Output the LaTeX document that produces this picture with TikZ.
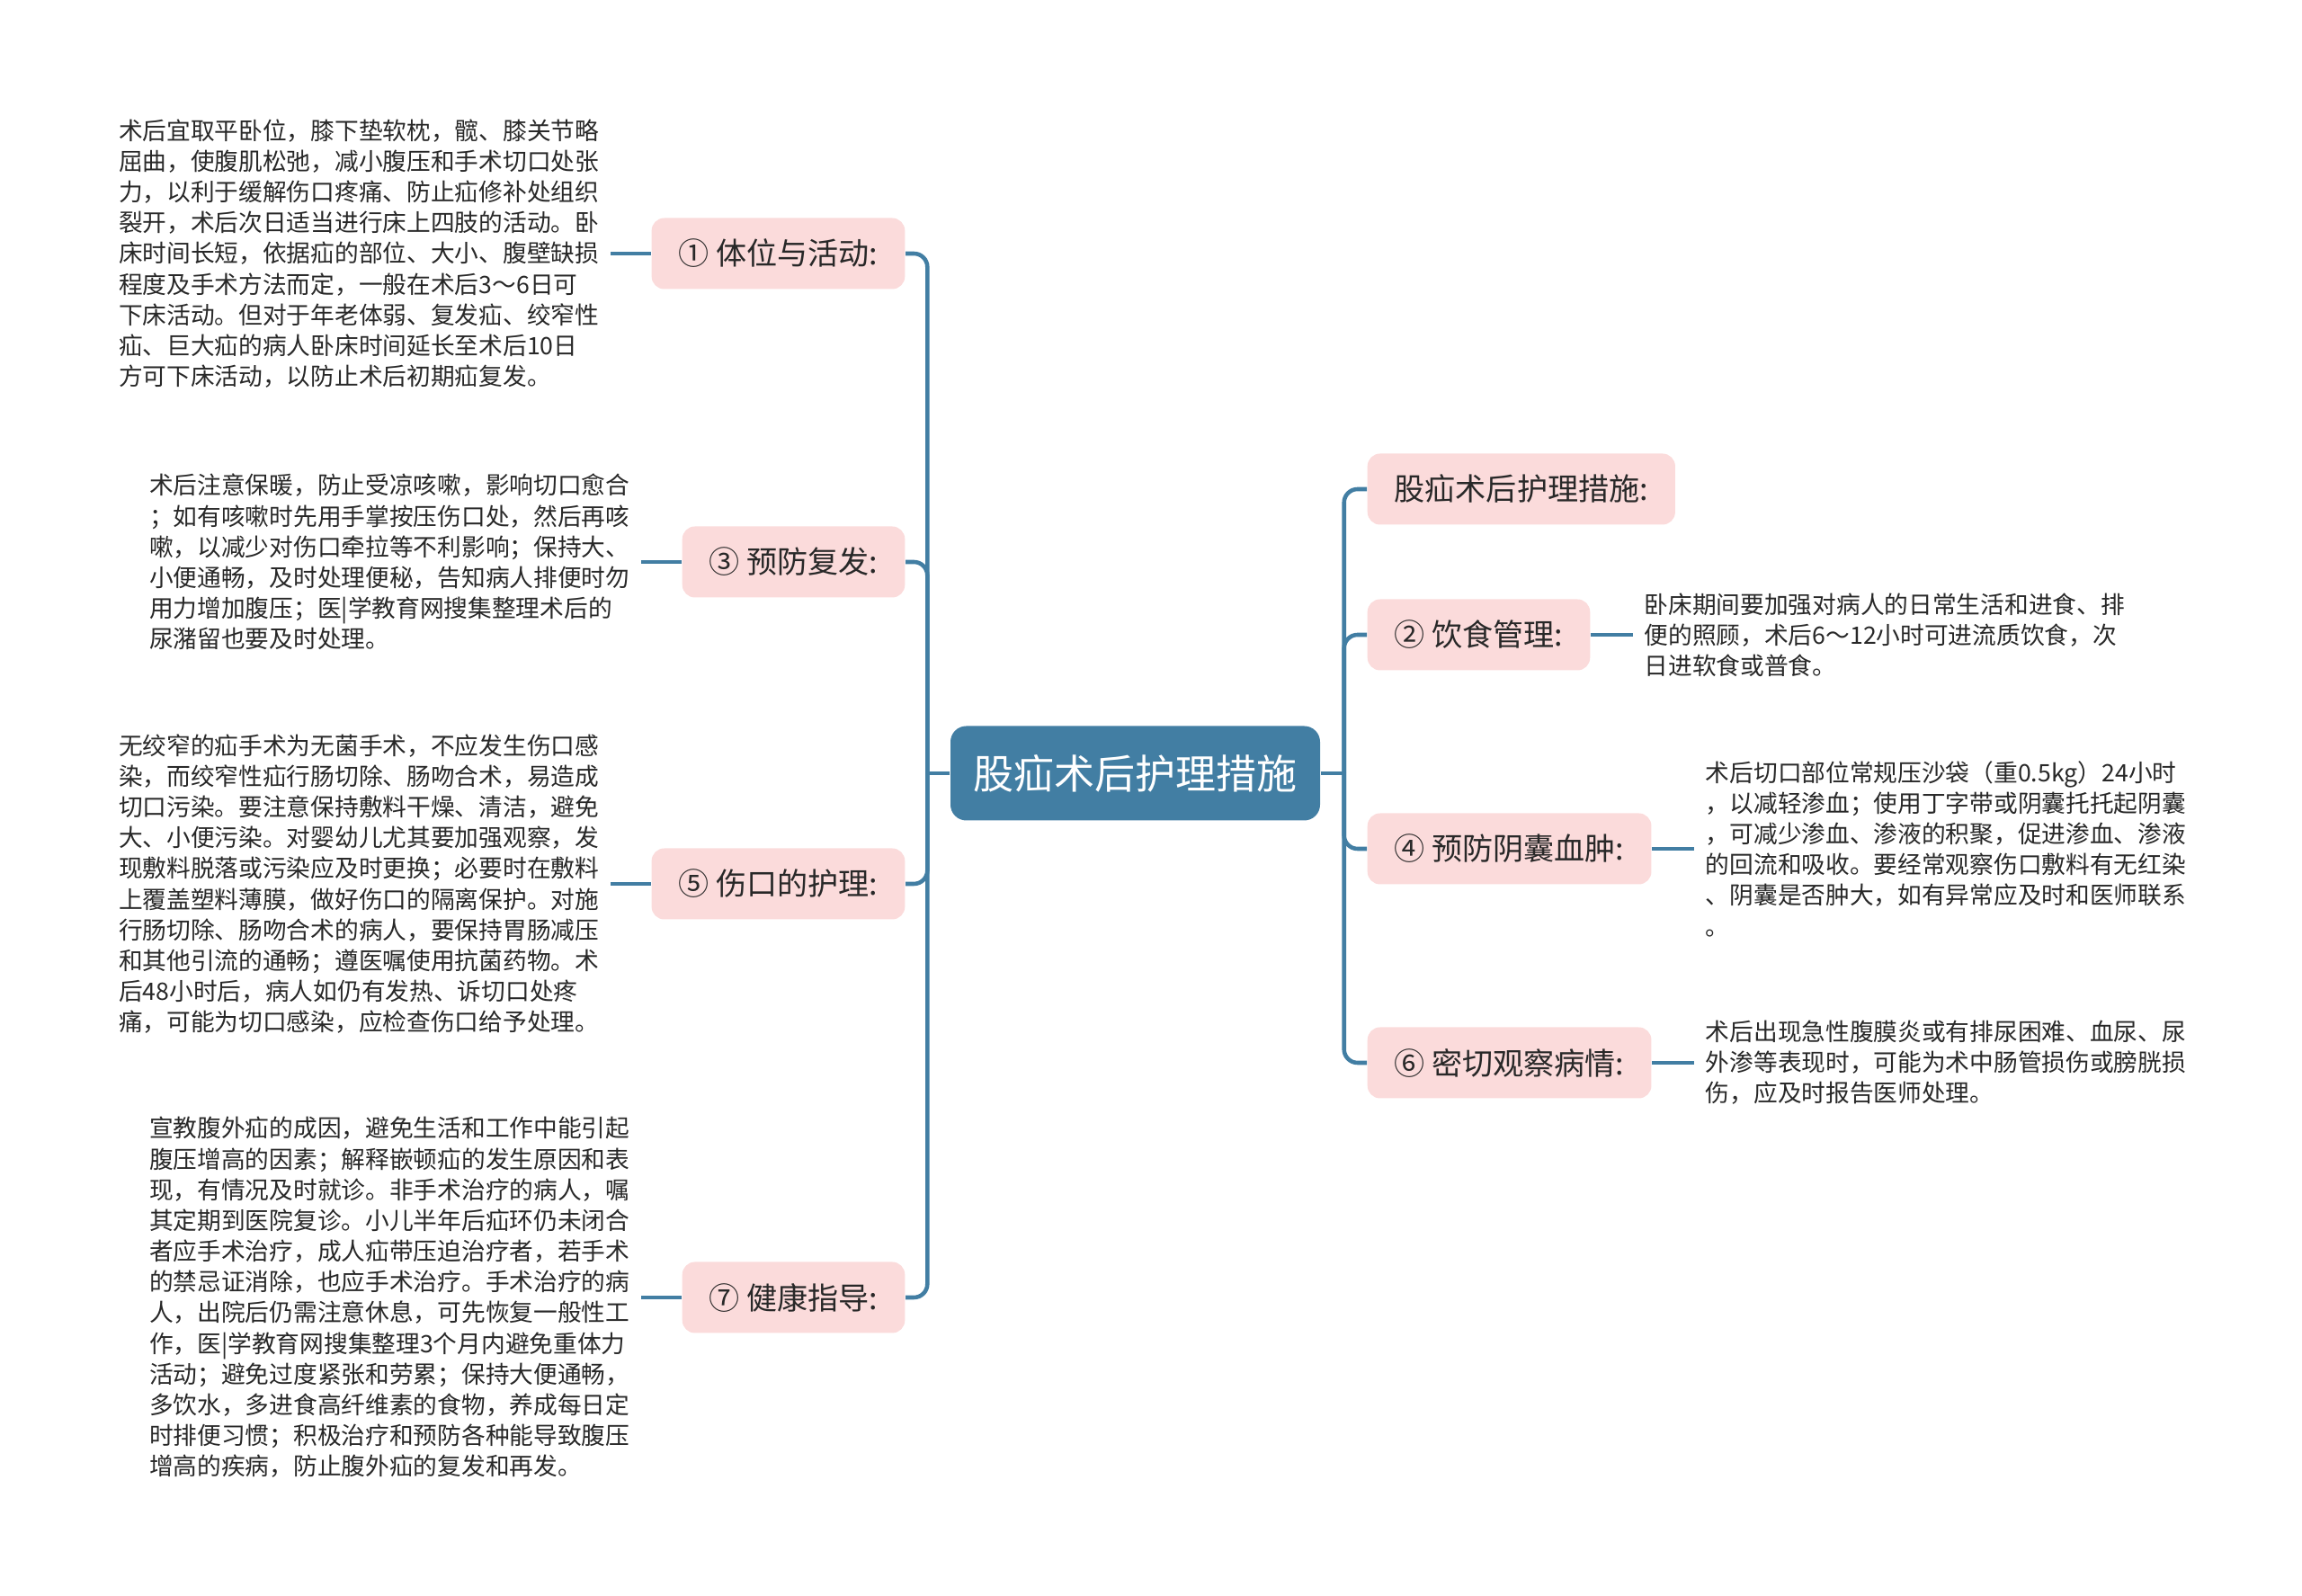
\documentclass[tikz,border=0pt]{standalone}
\usepackage{fontspec}
\setmainfont{Noto Sans CJK SC}
\usetikzlibrary{positioning}
\definecolor{mapblue}{RGB}{66,126,163}
\definecolor{mappink}{RGB}{251,219,219}
\definecolor{maptext}{RGB}{40,40,40}

\begin{document}
\begin{tikzpicture}[
  root/.style={fill=mapblue,text=white,rounded corners=5pt,minimum width=4.11cm,minimum height=1.05cm,font=\fontsize{12.8pt}{14pt}\selectfont},
  topic/.style={fill=mappink,text=maptext,rounded corners=4pt,inner xsep=0.3cm,minimum height=0.79cm,font=\fontsize{9.7pt}{11pt}\selectfont},
  note/.style={align=left,inner sep=0.12cm,text=maptext,font=\fontsize{7.6pt}{9.72pt}\selectfont},
  link/.style={draw=mapblue,line width=1.3pt,rounded corners=0.15cm}
]
\useasboundingbox (0,0) rectangle (25.6,17.75);

\node[root] (root) at (12.625,9.15) {股疝术后护理措施};

% left topics
\node[topic,anchor=east] (t1) at (10.07,14.93) {① 体位与活动:};
\node[topic,anchor=east] (t3) at (10.07,11.50) {③ 预防复发:};
\node[topic,anchor=east] (t5) at (10.07,7.92) {⑤ 伤口的护理:};
\node[topic,anchor=east] (t7) at (10.07,3.32) {⑦ 健康指导:};

% right topics
\node[topic,anchor=west] (t0) at (15.20,12.31) {股疝术后护理措施:};
\node[topic,anchor=west] (t2) at (15.20,10.69) {② 饮食管理:};
\node[topic,anchor=west] (t4) at (15.20,8.31) {④ 预防阴囊血肿:};
\node[topic,anchor=west] (t6) at (15.20,5.93) {⑥ 密切观察病情:};

% notes
\node[note,left=0.45cm of t1] (n1) {术后宜取平卧位，膝下垫软枕，髋、膝关节略\\
屈曲，使腹肌松弛，减小腹压和手术切口处张\\
力，以利于缓解伤口疼痛、防止疝修补处组织\\
裂开，术后次日适当进行床上四肢的活动。卧\\
床时间长短，依据疝的部位、大小、腹壁缺损\\
程度及手术方法而定，一般在术后3～6日可\\
下床活动。但对于年老体弱、复发疝、绞窄性\\
疝、巨大疝的病人卧床时间延长至术后10日\\
方可下床活动，以防止术后初期疝复发。};

\node[note,left=0.45cm of t3] (n3) {术后注意保暖，防止受凉咳嗽，影响切口愈合\\
；如有咳嗽时先用手掌按压伤口处，然后再咳\\
嗽，以减少对伤口牵拉等不利影响；保持大、\\
小便通畅，及时处理便秘，告知病人排便时勿\\
用力增加腹压；医|学教育网搜集整理术后的\\
尿潴留也要及时处理。};

\node[note,left=0.45cm of t5] (n5) {无绞窄的疝手术为无菌手术，不应发生伤口感\\
染，而绞窄性疝行肠切除、肠吻合术，易造成\\
切口污染。要注意保持敷料干燥、清洁，避免\\
大、小便污染。对婴幼儿尤其要加强观察，发\\
现敷料脱落或污染应及时更换；必要时在敷料\\
上覆盖塑料薄膜，做好伤口的隔离保护。对施\\
行肠切除、肠吻合术的病人，要保持胃肠减压\\
和其他引流的通畅；遵医嘱使用抗菌药物。术\\
后48小时后，病人如仍有发热、诉切口处疼\\
痛，可能为切口感染，应检查伤口给予处理。};

\node[note,left=0.45cm of t7] (n7) {宣教腹外疝的成因，避免生活和工作中能引起\\
腹压增高的因素；解释嵌顿疝的发生原因和表\\
现，有情况及时就诊。非手术治疗的病人，嘱\\
其定期到医院复诊。小儿半年后疝环仍未闭合\\
者应手术治疗，成人疝带压迫治疗者，若手术\\
的禁忌证消除，也应手术治疗。手术治疗的病\\
人，出院后仍需注意休息，可先恢复一般性工\\
作，医|学教育网搜集整理3个月内避免重体力\\
活动；避免过度紧张和劳累；保持大便通畅，\\
多饮水，多进食高纤维素的食物，养成每日定\\
时排便习惯；积极治疗和预防各种能导致腹压\\
增高的疾病，防止腹外疝的复发和再发。};

\node[note,right=0.47cm of t2] (n2) {卧床期间要加强对病人的日常生活和进食、排\\
便的照顾，术后6～12小时可进流质饮食，次\\
日进软食或普食。};

\node[note,right=0.47cm of t4] (n4) {术后切口部位常规压沙袋（重0.5kg）24小时\\
，以减轻渗血；使用丁字带或阴囊托托起阴囊\\
，可减少渗血、渗液的积聚，促进渗血、渗液\\
的回流和吸收。要经常观察伤口敷料有无红染\\
、阴囊是否肿大，如有异常应及时和医师联系\\
。};

\node[note,right=0.47cm of t6] (n6) {术后出现急性腹膜炎或有排尿困难、血尿、尿\\
外渗等表现时，可能为术中肠管损伤或膀胱损\\
伤，应及时报告医师处理。};

% connectors
\coordinate (lbus) at ([xshift=-0.25cm]root.west);
\coordinate (rbus) at ([xshift=0.26cm]root.east);
\draw[link] (root.west) -- (lbus);
\draw[link] (root.east) -- (rbus);
\foreach \t in {t1,t3,t5,t7}
  \draw[link] (lbus) |- (\t.east);
\foreach \t in {t0,t2,t4,t6}
  \draw[link] (rbus) |- (\t.west);
\foreach \i in {1,3,5,7}
  \draw[link] (t\i.west) -- (n\i.east);
\foreach \i in {2,4,6}
  \draw[link] (t\i.east) -- (n\i.west);

\end{tikzpicture}
\end{document}
